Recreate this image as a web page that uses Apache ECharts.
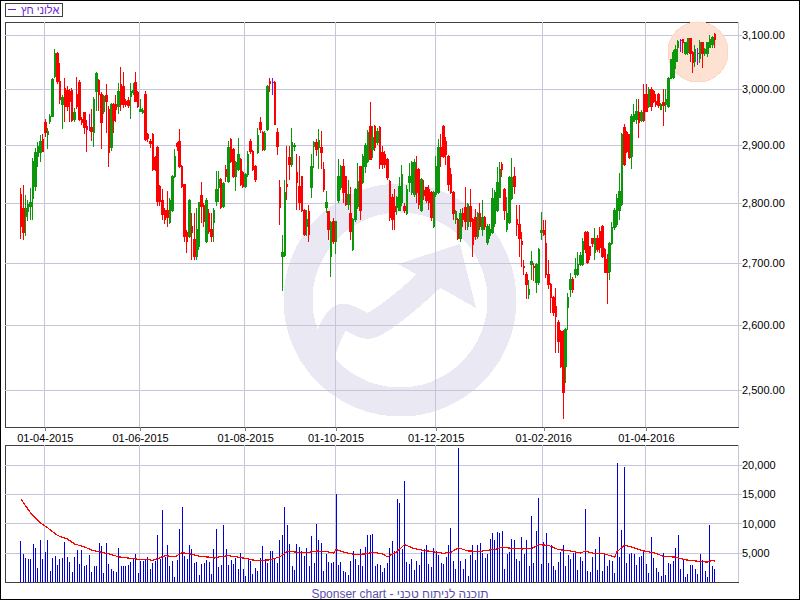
<!DOCTYPE html>
<html><head><meta charset="utf-8">
<script src="https://cdn.jsdelivr.net/npm/echarts@6/dist/echarts.min.js"></script>
<style>html,body{margin:0;padding:0;background:#fff}#c{width:800px;height:600px}#c svg path{shape-rendering:crispEdges}</style>
</head><body><div id="c"></div>
<script>
const seriesName = 'אלוני חץ';
const footerText = 'Sponser chart - תוכנה לניתוח טכני';
const monthTickIdx = [10, 49, 92, 129, 170, 214, 256];
const monthTickLabels = ['01-04-2015','01-06-2015','01-08-2015','01-10-2015','01-12-2015','01-02-2016','01-04-2016'];
const priceTicks = [2500, 2600, 2700, 2800, 2900, 3000, 3100];
const volumeTicks = [5000, 10000, 15000, 20000];

const opens = [
2815,2790,2777,2785,2794,2808,2828,2880,2887,2909,
2940,2919,2942,2951,3023,3066,3014,2973,3002,2998,
2996,2998,2946,2991,3012,2946,2957,2933,2928,2931,
2922,2996,3016,2991,2960,2989,2964,2896,2973,2973,
2969,3009,3004,2978,2980,2987,2994,3012,2994,2960,
2958,2991,2919,2907,2919,2878,2896,2828,2805,2788,
2788,2767,2788,2845,2902,2907,2862,2831,2751,2744,
2760,2738,2710,2727,2812,2795,2735,2783,2755,2767,
2802,2826,2840,2794,2858,2836,2910,2893,2845,2858,
2875,2852,2828,2849,2907,2889,2862,2887,2940,2922,
2893,2928,3014,3012,3012,2922,2826,2710,2713,2831,
2878,2866,2898,2852,2828,2845,2788,2760,2785,2826,
2898,2905,2895,2896,2858,2792,2785,2710,2768,2735,
2805,2826,2862,2845,2797,2783,2722,2772,2794,2862,
2835,2862,2871,2933,2893,2933,2905,2931,2887,2884,
2875,2836,2810,2794,2792,2788,2800,2794,2783,2835,
2817,2814,2858,2858,2788,2822,2826,2823,2817,2760,
2814,2817,2896,2933,2907,2880,2849,2817,2772,2772,
2741,2783,2792,2760,2794,2772,2775,2744,2783,2755,
2775,2734,2745,2751,2765,2788,2810,2866,2823,2755,
2767,2808,2845,2772,2763,2736,2694,2681,2649,2697,
2694,2668,2668,2751,2753,2732,2681,2665,2644,2630,
2605,2590,2590,2536,2628,2657,2673,2681,2681,2697,
2697,2751,2751,2727,2741,2717,2741,2752,2760,2722,
2705,2686,2732,2758,2763,2788,2797,2931,2922,2919,
2880,2942,2946,2958,2944,2991,2991,2968,3000,2996,
2978,2991,2964,2975,2973,2969,3020,3021,3050,3077,
3089,3091,3066,3068,3094,3068,3050,3066,3057,3085,
3066,3066,3077,3082,3100];

const closes = [
2760,2750,2790,2797,2800,2871,2887,2898,2907,2889,
2922,2924,2951,3018,3066,3014,2982,2984,2968,2968,
2978,2944,2958,2968,2946,2940,2931,2928,2928,2924,
2982,3029,2991,2940,2986,2978,2887,2973,2944,2964,
2996,2973,2973,2973,2970,2996,2998,2978,2968,2964,
2961,2910,2911,2902,2858,2858,2802,2802,2780,2772,
2775,2805,2845,2880,2897,2862,2828,2744,2735,2805,
2751,2710,2755,2800,2794,2768,2805,2752,2744,2788,
2823,2840,2792,2834,2845,2896,2871,2845,2869,2884,
2831,2828,2849,2884,2889,2858,2840,2916,2928,2893,
2920,3005,3010,3012,2937,2898,2792,2717,2817,2828,
2866,2905,2900,2835,2800,2788,2747,2772,2747,2862,
2905,2893,2908,2887,2823,2800,2755,2767,2735,2768,
2845,2862,2817,2797,2814,2752,2772,2823,2836,2788,
2880,2900,2922,2875,2913,2896,2924,2866,2866,2866,
2843,2775,2772,2785,2810,2828,2849,2788,2823,2845,
2869,2869,2817,2797,2840,2812,2805,2800,2775,2817,
2862,2896,2880,2880,2884,2831,2817,2783,2785,2741,
2783,2772,2768,2797,2768,2730,2744,2783,2760,2775,
2760,2760,2755,2808,2817,2835,2858,2858,2788,2783,
2843,2843,2828,2763,2741,2730,2692,2665,2657,2702,
2692,2697,2722,2753,2747,2681,2665,2644,2620,2614,
2574,2536,2496,2593,2644,2673,2657,2690,2698,2713,
2735,2722,2700,2713,2732,2741,2722,2725,2710,2685,
2685,2732,2758,2788,2808,2820,2919,2866,2889,2878,
2951,2955,2960,2940,2958,2944,2960,3000,2968,2978,
2973,2971,2973,2971,2982,3020,3054,3068,3072,3087,
3089,3085,3085,3094,3066,3048,3072,3066,3085,3066,
3072,3085,3091,3096,3091];

const lows = [
2740,2738,2744,2770,2772,2772,2820,2862,2871,2887,
2915,2893,2938,2951,3021,3010,2973,2928,2940,2960,
2940,2940,2940,2964,2942,2935,2919,2887,2924,2907,
2896,2960,2960,2893,2955,2922,2862,2890,2922,2940,
2955,2960,2966,2968,2966,2946,2990,2976,2966,2958,
2955,2908,2905,2895,2855,2855,2795,2795,2772,2765,
2760,2765,2785,2843,2890,2860,2825,2734,2717,2742,
2705,2705,2705,2722,2767,2760,2733,2748,2734,2734,
2795,2802,2790,2792,2835,2834,2868,2843,2820,2855,
2829,2825,2826,2845,2885,2855,2836,2884,2922,2890,
2890,2925,2995,2990,2935,2882,2763,2654,2710,2805,
2840,2862,2890,2788,2788,2785,2745,2745,2734,2808,
2860,2880,2858,2858,2818,2783,2738,2678,2732,2715,
2800,2822,2800,2795,2788,2738,2720,2768,2790,2772,
2832,2852,2869,2873,2878,2890,2900,2858,2858,2860,
2840,2770,2755,2755,2780,2786,2795,2783,2780,2818,
2814,2810,2800,2790,2785,2805,2800,2788,2770,2758,
2810,2815,2862,2878,2866,2820,2815,2772,2765,2738,
2734,2760,2755,2755,2760,2710,2738,2740,2755,2745,
2755,2730,2740,2748,2760,2785,2808,2845,2772,2752,
2765,2805,2815,2744,2710,2693,2680,2641,2641,2673,
2670,2652,2665,2738,2744,2676,2657,2620,2615,2556,
2556,2534,2456,2511,2593,2645,2652,2676,2679,2695,
2695,2717,2698,2705,2727,2705,2718,2717,2708,2683,
2633,2673,2730,2755,2760,2772,2795,2864,2886,2875,
2858,2940,2937,2913,2940,2940,2958,2966,2960,2975,
2968,2966,2962,2933,2958,2966,3018,3019,3036,3050,
3068,3066,3063,3063,3050,3029,3040,3044,3048,3039,
3060,3059,3075,3075,3076];

const highs = [
2825,2830,2814,2805,2826,2878,2895,2905,2917,2919,
2946,2931,2955,3020,3074,3068,3048,2990,3021,3005,
3000,3002,2965,3023,3016,2950,2959,2944,2955,2964,
2986,3031,3018,2995,2990,3010,2969,2975,2975,2990,
3012,3040,3031,2982,2985,3012,3012,3031,2996,2982,
2965,2996,2921,2910,2921,2880,2898,2830,2823,2792,
2820,2808,2848,2893,2905,2928,2865,2833,2755,2807,
2783,2783,2792,2802,2835,2800,2808,2790,2783,2792,
2855,2855,2842,2836,2865,2907,2912,2895,2872,2913,
2878,2855,2852,2890,2910,2891,2865,2930,2950,2925,
2925,3008,3020,3020,3014,2930,2840,2747,2840,2898,
2898,2930,2903,2884,2880,2847,2790,2788,2797,2884,
2907,2910,2928,2924,2870,2820,2787,2770,2775,2770,
2875,2866,2875,2847,2840,2828,2775,2826,2868,2864,
2884,2903,2926,2976,2933,2935,2930,2933,2898,2890,
2878,2840,2815,2823,2812,2845,2866,2800,2830,2868,
2872,2875,2880,2860,2843,2840,2828,2830,2820,2820,
2880,2910,2919,2935,2915,2882,2860,2820,2788,2775,
2790,2792,2828,2800,2823,2775,2790,2785,2800,2805,
2778,2765,2765,2826,2822,2862,2870,2870,2826,2810,
2846,2878,2862,2797,2797,2751,2705,2685,2673,2720,
2700,2700,2725,2785,2772,2772,2705,2667,2646,2660,
2608,2592,2592,2596,2652,2684,2678,2708,2718,2718,
2741,2753,2753,2728,2742,2758,2746,2760,2763,2724,
2715,2735,2768,2792,2815,2852,2922,2937,2924,2920,
2955,2973,2982,2982,2962,3009,3009,3004,3004,2998,
2991,2993,2975,3000,3000,3022,3056,3072,3082,3091,
3093,3092,3087,3095,3095,3070,3082,3076,3091,3086,
3076,3086,3100,3098,3104];

const volumes = [
7050,4830,4150,3970,3970,6540,5860,2440,7230,3970,
5170,7230,1920,4150,4490,2950,3970,4150,6880,4320,
3460,1750,4320,5510,3120,5510,2780,2950,4660,1750,
2780,2780,6710,6200,1580,6710,3120,2260,1920,1750,
5860,2780,2780,2780,2950,3460,3970,4830,1580,3630,
3630,3860,4320,2260,3290,3630,8080,3970,12360,4320,
6370,2780,3630,900,3800,9110,12870,4490,3970,6370,
5690,3290,3460,1240,3120,3290,3800,3460,1410,5690,
9110,2610,2950,9790,5690,2950,3800,3120,4150,2260,
5000,2260,1070,4150,
3580,1410,2440,1920,4150,6200,3970,3290,5340,5340,
4150,3290,7230,8080,12870,9790,6540,2780,2090,6540,
6030,5340,4490,5860,2780,7910,3290,9960,7230,6710,
1920,4830,3460,3290,3460,15100,2950,3460,1920,1750,
1240,3630,5340,3970,2950,5690,2780,6030,8080,8080,
8250,2780,3120,2950,1750,2440,3290,5860,7050,5340,
14240,13560,5690,17320,3460,3120,3970,2090,3630,2950,
5170,5690,6370,3120,2610,5860,5340,4660,3290,3120,
4320,6370,9280,3630,2260,22970,3630,2260,3970,1070,
4660,6370,3800,6370,6710,5000,4150,4830,7400,8420,
7230,8590,8420,8770,2260,4830,5170,7400,7230,3970,
3630,7740,4830,7230,2780,11330,3290,8770,14410,3120,
6880,8420,3290,6370,2780,2090,3460,5170,6370,2780,
4660,3970,5000,5170,2090,4320,3630,12530,1920,1750,
4320,5690,2090,7740,1920,4660,2780,3800,3630,1580,
20400,4320,8940,19720,3290,4830,5000,4830,2950,4320,
4490,5340,3120,1580,7740,4150,2440,1750,1070,5000,
1240,3290,3120,3630,5860,8080,2260,3970,900,1410,
2950,2950,2260,1410,4830,3800,1920,900,9790,2780,
2260];

// volume moving average, read at the points where it could be read
const volMaIdx = [0,4,8,11,15,19,22,26,29,33,37,40,44,48,52,54,56,59,63,66,69,73,77,79,81,85,89,93,
94,98,102,106,108,109,113,117,121,125,128,129,133,137,141,144,148,150,154,157,161,165,169,173,176,179,183,188,193,
194,197,200,205,209,212,216,220,225,229,231,234,239,243,244,247,251,255,259,263,268,272,277,281,283,284];
const volMaVal = [14200,11800,10100,9250,7950,7350,6500,6000,5450,5100,4700,4300,4100,3900,3820,3700,4000,4500,4300,5000,4850,4400,4250,4100,4280,4500,4250,3950,
3800,3650,3800,4300,4900,5250,5100,5000,5300,5200,4950,5550,5000,4700,4800,5100,4800,4300,5200,6400,5700,5400,5150,4900,5100,5850,5300,5250,5550,
5550,6000,5800,5650,5750,6400,6250,5550,5300,4950,5300,4950,4800,4250,5200,6300,5850,5300,5000,4400,4250,3800,3550,3400,3700,3550];

const UP = '#0c960c', DOWN = '#ff0000', DOJI = '#8a10d8';
const GRID = '#c7c5d9', FRAME = '#404040';
const FONT = '"Liberation Sans", Arial, sans-serif';

const PAD_L = 6, PAD_R = 9;
const N = opens.length;
const cats = [], candleData = [], volData = [], maData = [];
const maMap = new Map(volMaIdx.map((k, j) => [k, volMaVal[j]]));
for (let k = -PAD_L; k < N + PAD_R; k++) {
  cats.push(String(k));
  const inR = k >= 0 && k < N;
  candleData.push(inR ? [opens[k], closes[k], lows[k], highs[k]] : '-');
  volData.push(inR ? volumes[k] : '-');
  maData.push(maMap.has(k) ? maMap.get(k) : null);
}
const tickSet = new Set(monthTickIdx);
const labelOf = {};
monthTickIdx.forEach((k, j) => { labelOf[String(k)] = monthTickLabels[j]; });
const tickFn = (idx) => tickSet.has(idx - PAD_L);
const fmtPrice = v => Number(v).toLocaleString('en-US', {minimumFractionDigits: 2, maximumFractionDigits: 2});
const fmtVol = v => Number(v).toLocaleString('en-US');

const chart = echarts.init(document.getElementById('c'), null, {renderer: 'svg'});
const option = {
  animation: false,
  backgroundColor: '#ffffff',
  textStyle: {fontFamily: FONT},
  title: {
    text: footerText, left: 'center', top: 583,
    textStyle: {color: '#5a4fae', fontSize: 12, fontWeight: 'normal', fontFamily: FONT}
  },
  legend: {
    left: 5, top: 3, padding: [1, 3, 1, 3],
    borderColor: FRAME, borderWidth: 1, borderRadius: 0,
    itemWidth: 8, itemHeight: 1.5, selectedMode: false,
    textStyle: {color: '#6a1fd4', fontSize: 11, fontFamily: FONT},
    data: [{name: seriesName, icon: 'rect', itemStyle: {color: '#6a1fd4', borderWidth: 0}}]
  },
  grid: [
    {left: 5, right: 62, top: 22, height: 405, show: true, borderColor: FRAME, borderWidth: 1, backgroundColor: 'transparent'},
    {left: 5, right: 62, top: 445, height: 137, show: true, borderColor: FRAME, borderWidth: 1, backgroundColor: 'transparent'}
  ],
  xAxis: [
    {type: 'category', gridIndex: 0, data: cats,
     axisLine: {show: false},
     axisTick: {show: true, alignWithLabel: true, interval: tickFn, length: 4, inside: false, lineStyle: {color: '#7a7a7a'}},
     axisLabel: {interval: tickFn, formatter: v => labelOf[v] || '', color: '#000', fontSize: 11, margin: 5, fontFamily: FONT},
     splitLine: {show: true, interval: tickFn, lineStyle: {color: GRID, width: 1}}},
    {type: 'category', gridIndex: 1, data: cats,
     axisLine: {show: false}, axisTick: {show: false}, axisLabel: {show: false},
     splitLine: {show: true, interval: tickFn, lineStyle: {color: GRID, width: 1}}}
  ],
  yAxis: [
    {type: 'log', logBase: 10, gridIndex: 0, position: 'right', min: 2444.6, max: 3124.5,
     axisLine: {show: false},
     axisTick: {show: true, customValues: priceTicks, length: 4, lineStyle: {color: GRID}},
     axisLabel: {customValues: priceTicks, formatter: fmtPrice, color: '#000', fontSize: 11, margin: 4, fontFamily: FONT},
     splitLine: {show: true, lineStyle: {color: GRID, width: 1}}},
    {type: 'value', gridIndex: 1, position: 'right', min: 0, max: 23430,
     axisLine: {show: false},
     axisTick: {show: true, customValues: volumeTicks, length: 4, lineStyle: {color: GRID}},
     axisLabel: {customValues: volumeTicks, formatter: fmtVol, color: '#000', fontSize: 11, margin: 4, fontFamily: FONT},
     splitLine: {show: true, lineStyle: {color: GRID, width: 1}}}
  ],
  series: [
    {type: 'candlestick', name: seriesName, xAxisIndex: 0, yAxisIndex: 0, data: candleData,
     barWidth: 2,
     itemStyle: {color: UP, color0: DOWN, borderColor: UP, borderColor0: DOWN, borderColorDoji: DOJI, borderWidth: 1}},
    {type: 'bar', name: 'volume', xAxisIndex: 1, yAxisIndex: 1, data: volData, barWidth: 1,
     itemStyle: {color: '#0000dd'}},
    {type: 'line', name: 'volumeMA', xAxisIndex: 1, yAxisIndex: 1, data: maData, connectNulls: true,
     symbol: 'none', lineStyle: {color: '#ff0000', width: 1.2}}
  ],
  graphic: [
    {type: 'circle', z: -10, silent: true, shape: {cx: 400, cy: 300, r: 102}, style: {fill: 'none', stroke: '#e9e8f3', lineWidth: 29}},
    {type: 'polyline', z: -10, silent: true, shape: {points: [[318, 368], [340, 318], [372, 325], [440, 270]], smooth: 0.35}, style: {fill: 'none', stroke: '#e9e8f3', lineWidth: 26, lineCap: 'butt', lineJoin: 'round'}},
    {type: 'polygon', z: -10, silent: true, shape: {points: [[460, 244], [398, 264], [476, 308]]}, style: {fill: '#e9e8f3'}},
    {type: 'circle', z: 1, silent: true, shape: {cx: 698, cy: 52, r: 30}, style: {fill: '#fde1d2', stroke: '#fcd6c2', lineWidth: 1}},
    {type: 'rect', z: 100, silent: true, shape: {x: 0.5, y: 0.5, width: 799, height: 599}, style: {fill: 'none', stroke: '#000', lineWidth: 1}}
  ]
};
chart.setOption(option);
</script>
</body></html>
